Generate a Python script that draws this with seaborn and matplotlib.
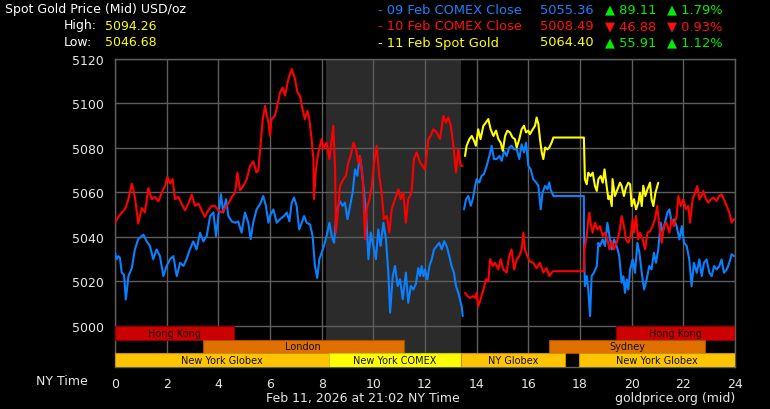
import numpy as np
import pandas as pd
import matplotlib
matplotlib.use("Agg")
import matplotlib.pyplot as plt
import seaborn as sns

# ---------------- data ----------------
blue_a_h = [0.00,0.06,0.13,0.19,0.26,0.35,0.42,0.52,0.65,0.77,0.90,1.03,1.10,1.23,1.35,1.48,1.61,1.74,1.87,2.00,
            2.13,2.26,2.39,2.52,2.65,2.77,2.90,3.03,3.16,3.29,3.42,3.55,3.68,3.81,3.91,4.00,4.10,4.19,4.30,4.39,
            4.52,4.65,4.77,4.90,5.03,5.16,5.25,5.35,5.48,5.61,5.74,5.84,5.94,6.00,6.13,6.26,6.39,6.54,6.65,6.75,
            6.84,6.93,7.03,7.13,7.23,7.32,7.42,7.55,7.65,7.74,7.83,7.91,8.00,8.09,8.19,8.30,8.39,8.48,8.58,8.71,
            8.81,8.90,9.00,9.10,9.20,9.29,9.38,9.48,9.55,9.64,9.72,9.81,9.90,10.00,10.10,10.19,10.28,10.39,10.49,10.58,
            10.65,10.75,10.84,10.94,11.03,11.14,11.26,11.35,11.45,11.55,11.65,11.74,11.81,11.87,11.94,12.00,12.09,12.17,12.26,12.35,
            12.45,12.55,12.65,12.74,12.84,12.94,13.03,13.12,13.20,13.29,13.35,13.42,13.46]
blue_a_v = [5032.9,5030.0,5031.4,5030.6,5024.0,5023.0,5011.9,5022.4,5026.0,5034.4,5039.0,5040.4,5041.0,5038.0,5036.0,5030.0,5034.4,5031.4,5022.4,5027.0,
            5030.0,5031.4,5022.4,5028.4,5027.0,5030.0,5034.4,5038.0,5034.4,5041.9,5038.0,5040.4,5049.4,5051.0,5040.4,5049.4,5059.2,5051.0,5057.0,5049.4,
            5047.0,5046.4,5047.0,5041.9,5051.0,5046.4,5039.0,5046.4,5052.4,5054.7,5058.4,5054.0,5046.4,5049.4,5052.4,5046.4,5048.0,5049.4,5051.0,5047.0,
            5055.4,5057.7,5054.0,5043.4,5046.4,5049.4,5046.4,5045.6,5040.4,5027.0,5021.6,5030.0,5032.9,5036.0,5040.4,5046.4,5040.4,5037.4,5052.4,5056.0,
            5054.0,5055.4,5048.0,5054.0,5060.0,5070.4,5067.5,5076.4,5070.4,5060.0,5051.0,5030.0,5042.0,5036.0,5030.0,5043.4,5036.0,5046.4,5039.0,5024.0,
            5006.0,5022.4,5027.0,5018.0,5021.0,5012.0,5024.0,5010.4,5018.0,5016.4,5019.0,5026.0,5022.4,5026.9,5022.4,5025.4,5020.9,5026.9,5029.9,5034.4,
            5035.9,5037.4,5034.4,5038.1,5035.9,5031.4,5026.9,5023.9,5017.9,5014.9,5011.9,5008.9,5004.4]

blue_b_h = [13.51,13.59,13.68,13.77,13.85,13.94,14.00,14.10,14.19,14.28,14.39,14.49,14.58,14.67,14.77,14.88,14.97,15.06,15.16,15.26,
            15.35,15.45,15.55,15.65,15.74,15.83,15.91,16.00,16.09,16.19,16.30,16.39,16.48,16.55,16.65,16.74,16.81,16.86,16.97,18.15,
            18.16,18.19,18.26,18.32,18.39,18.45,18.54,18.65,18.71,18.77,18.88,18.97,19.06,19.14,19.23,19.32,19.42,19.52,19.61,19.68,
            19.74,19.81,19.87,19.94,20.04,20.13,20.22,20.30,20.39,20.48,20.58,20.68,20.77,20.86,20.94,21.03,21.12,21.20,21.29,21.38,
            21.46,21.55,21.64,21.74,21.85,21.94,22.03,22.13,22.23,22.32,22.41,22.52,22.62,22.71,22.80,22.90,23.01,23.10,23.19,23.29,
            23.39,23.48,23.57,23.68,23.78,23.87,23.96]
blue_b_v = [5052.4,5057.0,5058.4,5054.0,5057.0,5063.0,5066.0,5064.5,5067.5,5068.2,5072.0,5076.4,5081.0,5075.0,5075.0,5076.4,5074.2,5078.7,5076.4,5080.2,
            5081.0,5079.4,5079.4,5075.0,5081.7,5078.0,5082.4,5072.0,5070.4,5066.0,5064.5,5063.0,5052.4,5060.0,5063.0,5061.4,5064.5,5061.4,5058.4,5058.4,
            5032.9,5017.9,5022.4,5016.4,5004.4,5022.4,5023.9,5026.9,5037.4,5035.9,5038.9,5035.9,5046.4,5040.4,5034.4,5038.9,5035.9,5031.4,5019.4,5022.4,
            5014.9,5020.9,5016.4,5025.4,5029.9,5023.9,5037.4,5032.9,5023.9,5016.4,5020.9,5026.9,5025.4,5032.9,5028.4,5034.4,5046.4,5041.9,5046.4,5050.9,
            5052.4,5046.4,5047.9,5044.9,5038.9,5044.9,5037.4,5035.9,5029.9,5017.9,5028.4,5023.9,5029.9,5022.4,5028.4,5029.9,5023.9,5022.4,5026.9,5025.4,
            5026.9,5029.9,5023.9,5025.4,5028.4,5032.2,5031.4]

red_a_h = [0.00,0.13,0.26,0.39,0.52,0.65,0.77,0.90,1.03,1.16,1.29,1.42,1.55,1.68,1.81,1.94,2.03,2.13,2.23,2.32,
           2.45,2.58,2.71,2.84,2.97,3.10,3.23,3.35,3.48,3.61,3.74,3.87,4.00,4.13,4.26,4.39,4.52,4.65,4.74,4.84,
           4.97,5.10,5.23,5.35,5.48,5.55,5.64,5.72,5.81,5.87,5.94,6.00,6.06,6.19,6.28,6.39,6.49,6.58,6.71,6.84,
           6.97,7.06,7.16,7.26,7.35,7.45,7.52,7.61,7.68,7.70,7.78,7.87,8.00,8.06,8.19,8.30,8.39,8.45,8.52,8.55,
           8.65,8.71,8.84,8.94,9.03,9.12,9.23,9.33,9.42,9.48,9.59,9.68,9.74,9.85,9.94,10.03,10.13,10.23,10.32,10.41,
           10.52,10.62,10.71,10.84,10.97,11.06,11.16,11.26,11.35,11.48,11.57,11.68,11.81,12.00,12.13,12.22,12.32,12.45,12.58,12.71,
           12.81,12.90,13.00,13.10,13.20,13.29,13.38,13.46]
red_a_v = [5046.4,5049.0,5051.0,5052.4,5057.0,5064.0,5058.0,5046.0,5053.0,5051.0,5062.0,5057.0,5058.0,5056.0,5060.0,5063.0,5067.0,5064.0,5066.0,5057.0,
           5058.0,5055.0,5052.0,5055.0,5059.0,5054.0,5055.0,5052.0,5049.0,5052.0,5054.0,5054.0,5052.0,5051.0,5053.0,5055.0,5058.0,5060.0,5069.0,5061.0,
           5063.0,5066.0,5072.0,5074.0,5069.0,5070.0,5082.0,5093.0,5099.0,5095.0,5091.4,5085.4,5093.0,5094.4,5099.0,5105.0,5107.2,5103.5,5111.0,5115.5,
           5111.0,5105.0,5103.5,5097.4,5093.0,5096.7,5093.0,5084.0,5075.0,5057.0,5070.4,5078.0,5084.0,5079.4,5082.4,5075.0,5084.0,5090.0,5070.4,5042.0,
           5054.0,5063.0,5066.0,5067.5,5073.4,5076.4,5082.4,5079.4,5073.4,5076.4,5066.0,5039.0,5052.4,5057.0,5063.0,5073.4,5081.0,5067.5,5060.0,5048.0,
           5049.4,5042.0,5052.4,5057.0,5061.4,5057.0,5060.0,5046.4,5057.0,5060.0,5075.0,5078.0,5073.4,5070.4,5084.0,5085.4,5088.4,5087.0,5084.0,5094.4,
           5091.4,5093.7,5090.0,5081.0,5069.0,5079.4,5072.0,5072.0]

red_b_h = [13.55,13.64,13.74,13.85,13.94,14.00,14.06,14.15,14.26,14.36,14.45,14.52,14.62,14.71,14.84,14.93,15.03,15.16,15.26,15.35,
           15.45,15.55,15.65,15.74,15.81,15.87,15.96,16.06,16.19,16.32,16.45,16.58,16.71,16.81,16.90,16.97,18.15,18.17,18.26,18.32,
           18.36,18.41,18.49,18.58,18.67,18.77,18.88,18.97,19.06,19.14,19.23,19.32,19.42,19.52,19.61,19.70,19.78,19.87,19.96,20.04,
           20.09,20.17,20.25,20.32,20.43,20.52,20.61,20.71,20.81,20.90,20.99,21.07,21.16,21.25,21.35,21.46,21.55,21.64,21.74,21.81,
           21.90,22.00,22.10,22.19,22.26,22.36,22.45,22.54,22.62,22.71,22.77,22.88,22.97,23.06,23.16,23.29,23.39,23.48,23.57,23.68,
           23.78,23.87,23.94,24.00]
red_b_v = [5014.9,5013.4,5012.6,5013.4,5012.6,5014.9,5008.9,5011.9,5016.4,5021.0,5020.0,5030.0,5027.0,5028.4,5025.4,5030.0,5025.4,5024.0,5031.4,5034.4,
           5025.4,5030.0,5031.4,5034.4,5042.0,5034.4,5031.4,5029.0,5028.4,5026.0,5028.4,5024.0,5026.0,5022.4,5024.0,5024.6,5024.6,5034.4,5040.4,5047.9,
           5050.9,5046.4,5041.9,5046.4,5043.4,5044.9,5040.4,5041.9,5038.9,5034.4,5038.1,5034.4,5037.4,5041.9,5049.4,5044.9,5038.9,5037.4,5040.4,5047.9,
           5041.9,5049.4,5038.9,5041.9,5038.9,5034.4,5041.9,5042.6,5044.9,5047.9,5053.9,5044.9,5037.4,5044.9,5046.4,5041.9,5047.9,5044.9,5049.4,5058.4,
           5053.9,5056.9,5052.4,5053.9,5046.4,5056.9,5059.9,5062.9,5056.9,5058.4,5060.7,5056.9,5055.4,5056.9,5057.7,5056.2,5058.4,5059.2,5056.9,5053.9,
           5050.9,5046.4,5047.9,5047.9]

gold_h = [13.55,13.61,13.72,13.81,13.90,13.97,14.06,14.15,14.26,14.36,14.45,14.54,14.65,14.75,14.84,14.93,15.01,15.10,15.19,15.29,
          15.39,15.48,15.55,15.65,15.74,15.83,15.91,16.00,16.06,16.17,16.26,16.32,16.39,16.45,16.52,16.58,16.65,16.74,16.81,16.90,
          16.97,18.15,18.19,18.26,18.32,18.41,18.49,18.58,18.65,18.71,18.80,18.88,18.95,19.03,19.10,19.16,19.23,19.26,19.35,19.45,
          19.55,19.61,19.70,19.78,19.87,19.94,20.00,20.09,20.17,20.26,20.32,20.39,20.45,20.53,20.61,20.71,20.77,20.84,20.92,21.03]
gold_v = [5076.4,5081.0,5084.0,5085.4,5083.2,5081.0,5088.4,5084.0,5090.0,5091.5,5093.0,5088.4,5085.4,5087.8,5084.0,5082.4,5078.7,5085.4,5087.8,5087.0,
          5084.7,5084.0,5080.2,5084.0,5088.4,5090.0,5087.0,5087.8,5086.2,5088.4,5090.0,5093.7,5090.7,5084.0,5078.0,5075.0,5080.2,5079.4,5080.2,5082.4,
          5084.7,5084.7,5065.9,5063.7,5068.9,5067.4,5068.9,5062.9,5060.7,5066.0,5067.4,5064.4,5070.4,5063.0,5057.0,5058.4,5053.9,5066.0,5058.4,5061.4,
          5064.4,5063.0,5058.4,5062.2,5064.4,5063.7,5053.9,5057.0,5052.4,5055.4,5059.9,5053.9,5063.0,5058.4,5061.4,5064.4,5057.0,5053.9,5059.9,5064.4]

# market sessions (bottom bands)
sess_names = ["Hong Kong", "Hong Kong", "London", "Sydney", "New York Globex", "New York COMEX", "NY Globex", "New York Globex"]
sess_start = [0.0, 19.38, 3.41, 16.81, 0.0, 8.28, 13.40, 17.98]
sess_end   = [4.60, 24.0, 11.17, 22.84, 8.28, 13.40, 17.42, 24.0]
sess_row   = [0, 0, 1, 1, 2, 2, 2, 2]
sess_color = ["#cc0000", "#cc0000", "#e07000", "#e07000", "#ffc400", "#ffff00", "#ffc400", "#ffc400"]
sess_edge  = ["#8a0000", "#8a0000", "#a85000", "#a85000", "#c89000", "#c8c800", "#c89000", "#c89000"]

comex_shade = (8.17, 13.40)

x_ticks = list(range(0, 25, 2))
y_ticks = [5000, 5020, 5040, 5060, 5080, 5100, 5120]

legend_rows = [
    ("- 09 Feb COMEX Close", "5055.36", "\u25b2 89.11", "\u25b2 1.79%", "#1a80ff", "#00ee00"),
    ("- 10 Feb COMEX Close", "5008.49", "\u25bc 46.88", "\u25bc 0.93%", "#ff1010", "#ff1010"),
    ("- 11 Feb Spot Gold",   "5064.40", "\u25b2 55.91", "\u25b2 1.12%", "#ffff00", "#00ee00"),
]
high_val = "5094.26"
low_val = "5046.68"

# ---------------- frames ----------------
def seg_df(h, v, seg):
    return pd.DataFrame({"h": h, "v": v, "seg": seg})

blue_df = pd.concat([seg_df(blue_a_h, blue_a_v, 0), seg_df(blue_b_h, blue_b_v, 1)])
red_df = pd.concat([seg_df(red_a_h, red_a_v, 0), seg_df(red_b_h, red_b_v, 1)])
gold_df = seg_df(gold_h, gold_v, 0)

# ---------------- plot ----------------
sns.set_style("dark")
plt.rcParams["font.family"] = ["DejaVu Sans"]

W, H = 770, 410
fig = plt.figure(figsize=(7.7, 4.1), dpi=100, facecolor="black")
ax = fig.add_axes([115 / W, 1 - 368 / H, 620 / W, 308 / H])
ax.set_facecolor("black")

band_h = 6.15
ymin = 5000 - 3 * band_h
ax.set_xlim(0, 24)
ax.set_ylim(ymin, 5120)

ax.axvspan(comex_shade[0], comex_shade[1], color="#2b2b2b", zorder=0, lw=0)

for xt in x_ticks:
    ax.axvline(xt, color="#5e5e5e", lw=1, zorder=1)
for yt in y_ticks:
    ax.axhline(yt, color="#5e5e5e", lw=1, zorder=1)

lw = 1.5
sns.lineplot(data=blue_df, x="h", y="v", units="seg", estimator=None, color="#0a80ff", lw=lw, ax=ax, zorder=3, sort=False)
sns.lineplot(data=red_df, x="h", y="v", units="seg", estimator=None, color="#ff0000", lw=lw, ax=ax, zorder=4, sort=False)
sns.lineplot(data=gold_df, x="h", y="v", units="seg", estimator=None, color="#ffff00", lw=lw, ax=ax, zorder=5, sort=False)

for name, s, e, r, c, ec in zip(sess_names, sess_start, sess_end, sess_row, sess_color, sess_edge):
    yc = 5000 - band_h * (r + 0.5)
    ax.barh(yc, e - s, left=s, height=band_h, color=c, edgecolor=ec, lw=0.8, zorder=6)
    ax.text((s + e) / 2, yc, name, ha="center", va="center", fontsize=7, color="#111111", zorder=7)

ax.set_xticks(x_ticks)
ax.set_xticklabels([str(t) for t in x_ticks])
ax.set_yticks(y_ticks)
ax.set_yticklabels([str(t) for t in y_ticks])
ax.tick_params(axis="both", colors="#777777", labelcolor="#e6e6e6", labelsize=9, length=6, width=1, pad=2)
ax.tick_params(axis="x", length=4, pad=3)
ax.set_xlabel("")
ax.set_ylabel("")
ax.grid(False)
for sp in ax.spines.values():
    sp.set_color("#5e5e5e")
    sp.set_linewidth(1)

# ---------------- texts ----------------
def px(x, y):
    return x / W, 1 - y / H

fs_head = 9
fs_leg = 9.4
fig.text(*px(5, 10), "Spot Gold Price (Mid) USD/oz", color="white", fontsize=fs_head, ha="left", va="center")
fig.text(*px(97, 26), "High:", color="white", fontsize=fs_head, ha="right", va="center")
fig.text(*px(105, 26), high_val, color="#ffff00", fontsize=fs_head, ha="left", va="center")
fig.text(*px(92, 43), "Low:", color="white", fontsize=fs_head, ha="right", va="center")
fig.text(*px(105, 43), low_val, color="#ffff00", fontsize=fs_head, ha="left", va="center")

row_y = [10, 26.5, 43]
for (lab, val, chg, pct, c1, c2), yy in zip(legend_rows, row_y):
    fig.text(*px(378, yy), lab, color=c1, fontsize=fs_leg, ha="left", va="center")
    fig.text(*px(540, yy), val, color=c1, fontsize=fs_leg, ha="left", va="center")
    fig.text(*px(605, yy), chg, color=c2, fontsize=fs_leg, ha="left", va="center")
    fig.text(*px(667, yy), pct, color=c2, fontsize=fs_leg, ha="left", va="center")

fig.text(*px(88, 382), "NY Time", color="#e6e6e6", fontsize=9, ha="right", va="center")
fig.text(*px(363, 399), "Feb 11, 2026 at 21:02 NY Time", color="#e6e6e6", fontsize=9, ha="center", va="center")
fig.text(*px(735, 399), "goldprice.org (mid)", color="#e6e6e6", fontsize=9, ha="right", va="center")

fig.savefig("out.png", dpi=100, facecolor="black")
